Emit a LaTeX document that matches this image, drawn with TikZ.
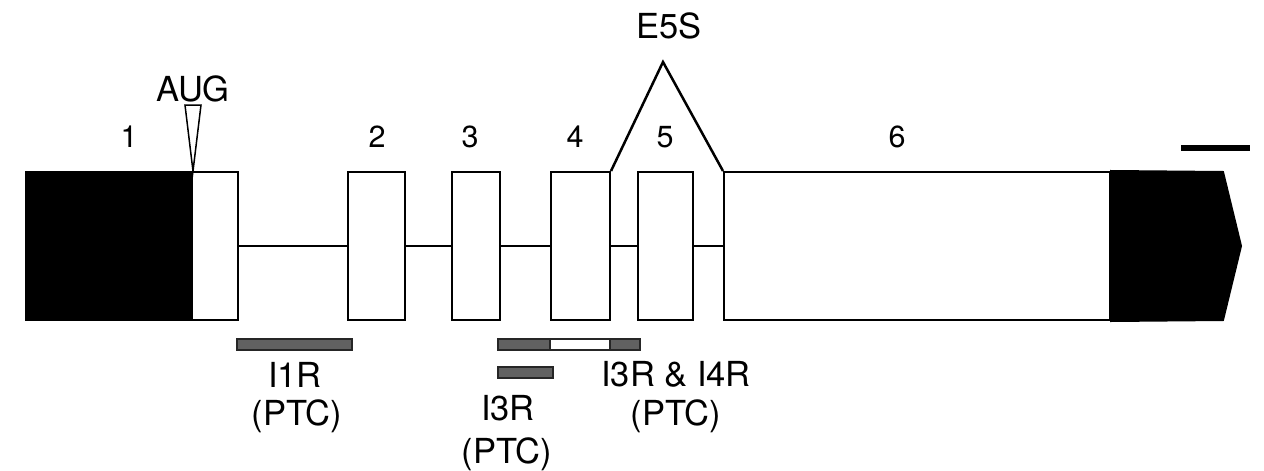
\documentclass[tikz,border=0pt]{standalone}
\usepackage{fontspec}
\setmainfont{TeX Gyre Heros}
\usetikzlibrary{positioning}

\begin{document}
\begin{tikzpicture}[x=1pt, y=-1pt,
    exon/.style={draw, line width=2pt, fill=white, minimum height=148pt, inner sep=0pt},
    utr/.style={exon, fill=black},
    probe/.style={draw=black!85, line width=2pt, fill=black!62, minimum height=11pt, inner sep=0pt},
    lbl/.style={font=\fontsize{34.5}{40}\selectfont, inner sep=0pt, anchor=base},
    num/.style={font=\fontsize{30.5}{36}\selectfont, inner sep=0pt, anchor=base}]

  \useasboundingbox (0,0) rectangle (1264,471);

  %% exons
  \node[utr,  minimum width=166pt] (e1)  at (109,246)   {};
  \node[exon, minimum width=46pt]  (e1w) at (215,246)   {};
  \node[exon, minimum width=57pt]  (e2)  at (376.5,246) {};
  \node[exon, minimum width=48pt]  (e3)  at (476,246)   {};
  \node[exon, minimum width=59pt]  (e4)  at (580.5,246) {};
  \node[exon, minimum width=55pt]  (e5)  at (665.5,246) {};
  \node[exon, minimum width=386pt] (e6)  at (917,246)   {};

  %% 3' end
  \coordinate (tip) at (1241,246);
  \draw[line width=2pt, fill=black] (e6.north east) -- (1223,172) -- (tip)
    -- (1223,320) -- (e6.south east) -- cycle;

  %% introns
  \draw[line width=2pt] (e1w.east) -- (e2.west);
  \draw[line width=2pt] (e2.east) -- (e3.west);
  \draw[line width=2pt] (e3.east) -- (e4.west);
  \draw[line width=2pt] (e4.east) -- (e5.west);
  \draw[line width=2pt] (e5.east) -- (e6.west);

  %% exon 5 skipping
  \coordinate (skip) at (663,62);
  \draw[line width=2.5pt, line join=miter] (e4.north east) -- (skip) -- (e6.north west);
  \node[lbl] (e5s) at (669,38) {E5S};

  %% start codon
  \coordinate (aug) at (e1.north east);
  \draw[line width=1.5pt, fill=white] (185,105) -- (201,105) -- (aug) -- cycle;
  \node[lbl] (augl) at (193,101) {AUG};

  %% exon numbers
  \node[num] (n1) at (129,147) {1};
  \node[num] (n2) at (377,147) {2};
  \node[num] (n3) at (470,147) {3};
  \node[num] (n4) at (575,147) {4};
  \node[num] (n5) at (665,147) {5};
  \node[num] (n6) at (897,147) {6};

  %% scale bar
  \fill (1181,145) rectangle (1250,151);

  %% retained introns
  \node[probe, minimum width=115pt] (p1) at (294.5,344.5) {};
  \node[probe, minimum width=52pt]  (p3a) at (524,344.5) {};
  \node[probe, fill=white, minimum width=60pt] (p3b) at (580,344.5) {};
  \node[probe, minimum width=30pt]  (p3c) at (625,344.5) {};
  \node[probe, minimum width=55pt]  (p2) at (525.5,372) {};

  \node[lbl] (l1)  at (295,387) {I1R};
  \node[lbl] (l1p) at (297,425) {(PTC)};
  \node[lbl] (l2)  at (508,420) {I3R};
  \node[lbl] (l2p) at (507,463) {(PTC)};
  \node[lbl] (l3)  at (676,386) {I3R \& I4R};
  \node[lbl] (l3p) at (676,425) {(PTC)};
\end{tikzpicture}
\end{document}
